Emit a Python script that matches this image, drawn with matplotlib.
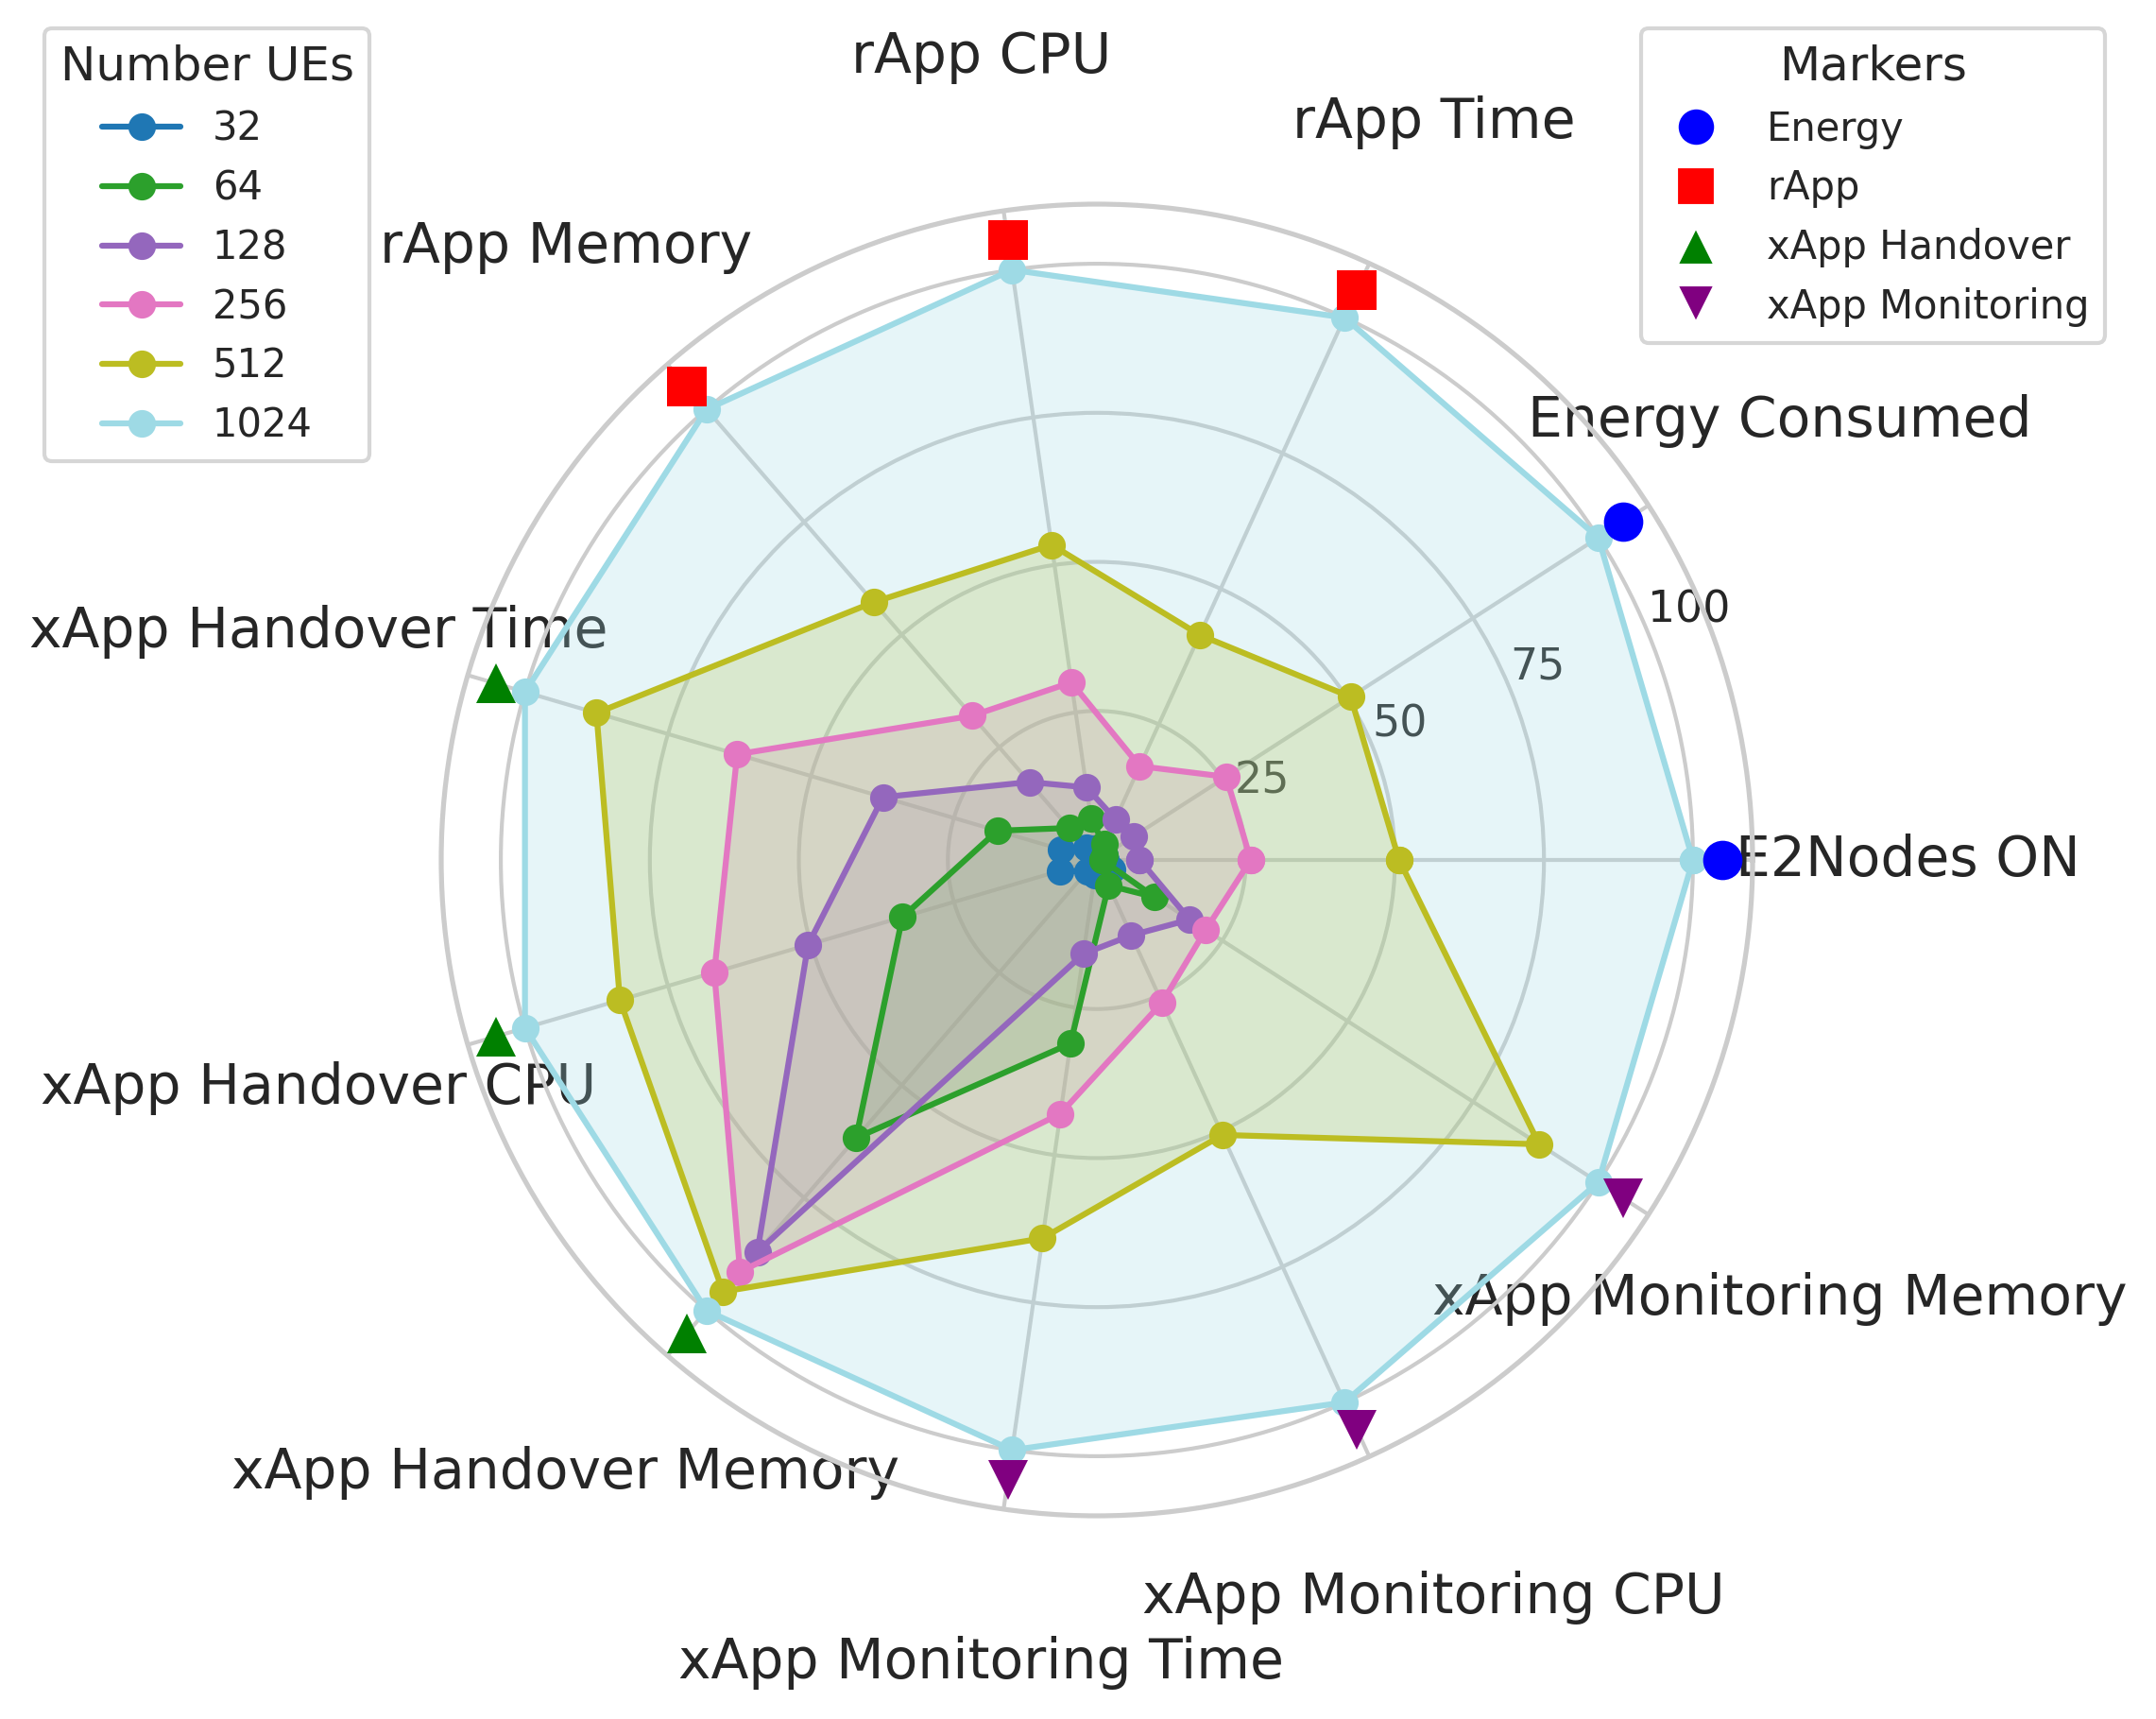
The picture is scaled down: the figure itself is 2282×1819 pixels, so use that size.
import numpy as np
import matplotlib
matplotlib.use('Agg')
import matplotlib.pyplot as plt
import seaborn as sns
from matplotlib.lines import Line2D

categories = ['E2Nodes ON', 'Energy Consumed', 'rApp Time', 'rApp CPU', 'rApp Memory',
              'xApp Handover Time', 'xApp Handover CPU', 'xApp Handover Memory',
              'xApp Monitoring Time', 'xApp Monitoring CPU', 'xApp Monitoring Memory']
ue_counts = ['32', '64', '128', '256', '512', '1024']

values_32 = [1.5, 1.5, 1.5, 2.0, 2.7, 6.2, 6.5, 2.5, 2.5, 3.0, 3.0]
values_64 = [0.9, 1.5, 2.9, 7.0, 7.1, 17.4, 34.0, 61.7, 31.1, 4.7, 11.5]
values_128 = [7.2, 7.3, 7.5, 12.3, 17.3, 37.4, 50.5, 87.0, 15.9, 13.9, 18.5]
values_256 = [25.8, 25.8, 17.3, 30.1, 32.0, 62.9, 66.9, 91.4, 43.0, 26.3, 21.7]
values_512 = [50.7, 50.6, 41.5, 53.4, 57.2, 87.5, 83.4, 95.8, 64.1, 50.7, 88.2]
values_1024 = [100, 100, 100, 100, 100, 100, 100, 100, 100, 100, 100]

marker_groups = ['Energy', 'rApp', 'xApp Handover', 'xApp Monitoring']
marker_shapes = ['o', 's', '^', 'v']
marker_colors = ['blue', 'red', 'green', 'purple']
category_group = [0, 0, 1, 1, 1, 2, 2, 2, 3, 3, 3]
marker_radius = 105
radial_ticks = [25, 50, 75, 100]

sns.set_theme(style='whitegrid')
plt.rcParams['font.family'] = ['DejaVu Sans']

W, H, DPI = 2282, 1819, 300
fig = plt.figure(figsize=(W / DPI, H / DPI), dpi=DPI)
cx, cy, R = 1161, 910, 694
ax = fig.add_axes([(cx - R) / W, (H - cy - R) / H, 2 * R / W, 2 * R / H], projection='polar')

angles = np.linspace(0, 2 * np.pi, len(categories), endpoint=False)
closed_angles = np.concatenate([angles, angles[:1]])
colors = plt.cm.tab20(np.linspace(0, 1, len(ue_counts)))
series = [values_32, values_64, values_128, values_256, values_512, values_1024]

handles = []
for label, vals, c in zip(ue_counts, series, colors):
    v = list(vals) + [vals[0]]
    ln, = ax.plot(closed_angles, v, 'o-', color=c, label=label)
    ax.fill(closed_angles, v, color=c, alpha=0.25)
    handles.append(ln)

for i, ang in enumerate(angles):
    g = category_group[i]
    ax.plot([ang], [marker_radius], linestyle='none', marker=marker_shapes[g],
            color=marker_colors[g], markersize=10, markeredgewidth=0, zorder=6)

ax.set_ylim(0, 110)
ax.set_yticks(radial_ticks)
ax.set_yticklabels([str(t) for t in radial_ticks])
ax.set_xticks(angles)
ax.set_xticklabels(categories, fontsize=14)
ax.tick_params(axis='x', pad=26.5)

leg1 = fig.legend(handles=handles, title='Number UEs', loc='upper left',
                  bbox_to_anchor=(47 / W, 1 - 30 / H), borderaxespad=0,
                  fontsize=10, title_fontsize=12)
marker_handles = [Line2D([], [], linestyle='none', marker=m, color='w', markerfacecolor=c,
                         markersize=10, label=n)
                  for n, m, c in zip(marker_groups, marker_shapes, marker_colors)]
leg2 = fig.legend(handles=marker_handles, title='Markers', loc='upper right',
                  bbox_to_anchor=(2228 / W, 1 - 30 / H), borderaxespad=0,
                  fontsize=10, title_fontsize=12)

fig.savefig('out.png', dpi=DPI)
